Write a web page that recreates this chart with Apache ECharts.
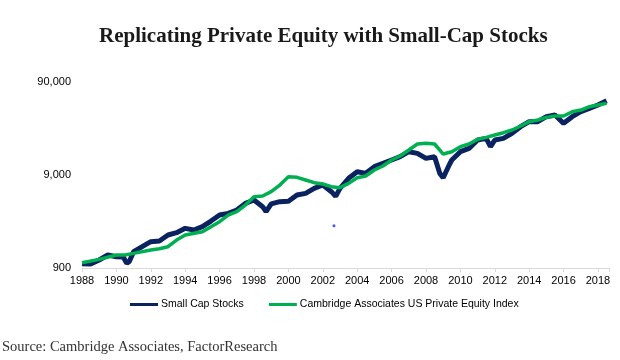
<!DOCTYPE html>
<html>
<head>
<meta charset="utf-8">
<script src="https://cdn.jsdelivr.net/npm/echarts@6/dist/echarts.min.js"></script>
<style>
html,body{margin:0;padding:0;background:#fff;}
#chart{width:620px;height:360px;}
</style>
</head>
<body>
<div id="chart"></div>
<script>
// ---- data ----
const chartTitle = 'Replicating Private Equity with Small-Cap Stocks';
const sourceText = 'Source: Cambridge Associates, FactorResearch';
const seriesNames = ['Small Cap Stocks', 'Cambridge Associates US Private Equity Index'];
const xTickLabels = ['1988','1990','1992','1994','1996','1998','2000','2002','2004','2006','2008','2010','2012','2014','2016','2018'];
const yTickLabels = ['900', '9,000', '90,000'];

const smallCapYears = [1988.0,1988.5,1989.0,1989.5,1990.0,1990.4,1990.6,1990.75,1991.0,1991.5,1992.0,1992.5,1993.0,1993.5,1994.0,1994.5,1995.0,1995.5,1996.0,1996.5,1997.0,1997.5,1998.0,1998.5,1998.7,1999.0,1999.5,2000.0,2000.5,2001.0,2001.5,2002.0,2002.5,2002.75,2003.0,2003.5,2004.0,2004.5,2005.0,2005.5,2006.0,2006.5,2007.0,2007.5,2008.0,2008.5,2008.8,2009.0,2009.3,2009.5,2010.0,2010.5,2011.0,2011.5,2011.75,2012.0,2012.5,2013.0,2013.5,2014.0,2014.5,2015.0,2015.5,2016.0,2016.5,2017.0,2017.5,2018.0,2018.5];
const smallCapValues = [1000,993,1097,1241,1191,1180,1010,1060,1348,1525,1727,1755,2036,2157,2402,2305,2502,2878,3341,3482,3782,4459,4845,4108,3640,4400,4648,4700,5482,5713,6466,7023,5955,5300,6466,8285,9768,9376,11056,12006,13041,14163,16028,15382,13591,14163,9376,8400,11056,13041,16028,17404,21393,22297,18141,21393,22297,25235,29768,33697,33697,38134,39744,32334,38134,43152,46864,50900,56660];

const peYears = [1988.0,1989.0,1990.0,1990.5,1991.0,1992.0,1992.5,1993.0,1993.5,1994.0,1995.0,1995.5,1996.0,1996.5,1997.0,1997.5,1998.0,1998.5,1999.0,1999.5,2000.0,2000.5,2001.0,2001.5,2002.0,2002.5,2003.0,2003.5,2004.0,2004.5,2005.0,2005.5,2006.0,2006.5,2007.0,2007.5,2008.0,2008.5,2009.0,2009.5,2010.0,2010.5,2011.0,2011.5,2012.0,2012.5,2013.0,2013.5,2014.0,2014.5,2015.0,2015.5,2016.0,2016.5,2017.0,2017.5,2018.0,2018.5];
const peValues = [1026,1115,1241,1241,1293,1405,1452,1525,1799,2036,2212,2502,2833,3341,3628,4280,5260,5348,5955,7023,8630,8489,7947,7438,7196,6740,6574,7316,8419,8774,10181,11241,13041,14400,16702,19383,19706,19383,15124,16028,18141,19383,21752,22856,24218,25658,27409,30265,33697,35115,37497,38760,38760,43152,44970,48846,50900,53047];

const strayYears = [2002.65];
const strayValues = [2566];

// ---- build chart ----
const zip = (xs, ys) => xs.map((x, i) => [x, ys[i]]);
const chart = echarts.init(document.getElementById('chart'), null, {renderer: 'canvas'});
const option = {
  backgroundColor: '#ffffff',
  animation: false,
  title: [
    {
      text: chartTitle, left: 99, top: 26, padding: 0,
      textStyle: {fontFamily: 'Liberation Serif', fontWeight: 'bold', fontSize: 21, color: '#1a1a1a'}
    },
    {
      text: sourceText, left: 2, top: 340, padding: 0,
      textStyle: {fontFamily: 'Liberation Serif', fontWeight: 'normal', fontSize: 14.5, color: '#333333'}
    }
  ],
  legend: {
    left: 130, top: 299, padding: 0,
    icon: 'rect', itemWidth: 28, itemHeight: 3, itemGap: 25,
    data: seriesNames,
    textStyle: {fontFamily: 'Liberation Sans', fontSize: 10.5, color: '#000000', padding: [0,0,0,-2]}
  },
  grid: {left: 82, right: 11, top: 82, bottom: 92, containLabel: false},
  xAxis: {
    type: 'value', min: 1988, max: 2018.64, interval: 2,
    axisLine: {show: true, lineStyle: {color: '#d9d9d9', width: 1}},
    axisTick: {show: true, length: 4, lineStyle: {color: '#d9d9d9'}},
    splitLine: {show: false},
    axisLabel: {
      fontFamily: 'Liberation Sans', fontSize: 11, color: '#000000', margin: 7,
      formatter: v => { const s = String(v); return xTickLabels.indexOf(s) >= 0 ? s : ''; }
    }
  },
  yAxis: [
    {
      type: 'log', logBase: 10, min: 900, max: 90000,
      axisLine: {show: false}, axisTick: {show: false}, splitLine: {show: false},
      axisLabel: {show: false}
    },
    {
      type: 'value', min: 0, max: 2, interval: 1, position: 'left',
      axisLine: {show: false}, axisTick: {show: false}, splitLine: {show: false},
      axisLabel: {
        fontFamily: 'Liberation Sans', fontSize: 11, color: '#000000', margin: 11,
        formatter: v => yTickLabels[v] || ''
      }
    }
  ],
  series: [
    {
      name: seriesNames[0], type: 'line', yAxisIndex: 0, data: zip(smallCapYears, smallCapValues),
      showSymbol: false, symbol: 'none', lineStyle: {color: '#0b2261', width: 5}, itemStyle: {color: '#0b2261'}
    },
    {
      name: seriesNames[1], type: 'line', yAxisIndex: 0, data: zip(peYears, peValues),
      showSymbol: false, symbol: 'none', lineStyle: {color: '#00b050', width: 3.5}, itemStyle: {color: '#00b050'}
    },
    {
      name: 'stray', type: 'scatter', yAxisIndex: 0, data: zip(strayYears, strayValues),
      symbolSize: 3, itemStyle: {color: '#2020ff'}, silent: true
    }
  ]
};
chart.setOption(option);
</script>
</body>
</html>
